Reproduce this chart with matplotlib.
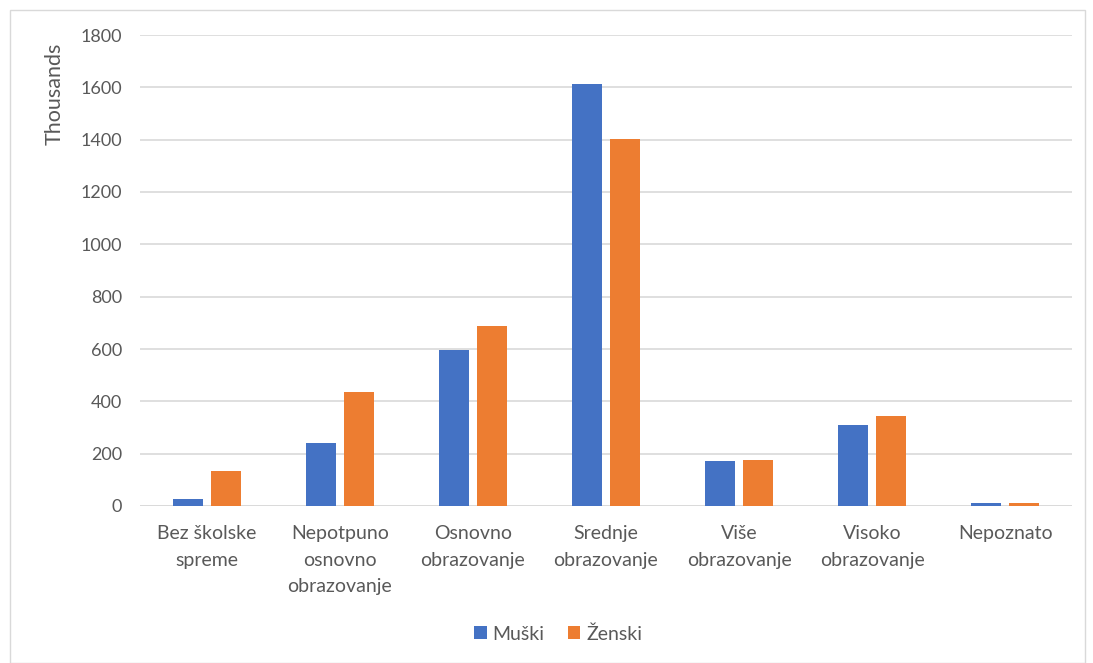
import matplotlib
matplotlib.use("Agg")
import matplotlib.pyplot as plt
from matplotlib.patches import Rectangle
import numpy as np

categories = ["Bez školske\nspreme", "Nepotpuno\nosnovno\nobrazovanje", "Osnovno\nobrazovanje",
              "Srednje\nobrazovanje", "Više\nobrazovanje", "Visoko\nobrazovanje", "Nepoznato"]
muski = [28, 241, 595, 1611, 172, 309, 10]
zenski = [133, 436, 687, 1401, 174, 343, 11]
series_names = ["Muški", "Ženski"]
yticks = [0, 200, 400, 600, 800, 1000, 1200, 1400, 1600, 1800]

plt.rcParams['font.family'] = ['Lato', 'DejaVu Sans']
text_color = "#595959"
grid_color = "#d9d9d9"

fig = plt.figure(figsize=(10.93, 6.63), dpi=100)
W, H = 1093, 663
ax = fig.add_axes([140 / W, 1 - 506 / H, 932 / W, 471 / H])

x = np.arange(len(categories))
width = 0.225
off = 0.143
ax.bar(x - off, muski, width, color="#4472C4", label=series_names[0], zorder=3)
ax.bar(x + off, zenski, width, color="#ED7D31", label=series_names[1], zorder=3)

ax.set_xlim(-0.5, len(categories) - 0.5)
ax.set_ylim(0, 1800)
ax.set_yticks(yticks)
ax.set_yticklabels([str(v) for v in yticks])
ax.set_xticks(x)
ax.set_xticklabels(categories, linespacing=1.68, va="top")
ax.tick_params(axis="both", length=0, colors=text_color)
ax.tick_params(axis="y", pad=13, labelsize=13)
ax.tick_params(axis="x", pad=14, labelsize=14)
ax.yaxis.grid(True, color=grid_color, linewidth=1.2, zorder=0)
for s in ax.spines.values():
    s.set_visible(False)
ax.axhline(0, color=grid_color, linewidth=1.2, zorder=2)

fig.text(55 / W, 1 - 94 / H, "Thousands", rotation=90, ha="center", va="center",
         color=text_color, fontsize=15.5)

handles, labels = ax.get_legend_handles_labels()
leg = fig.legend(handles, labels, loc="center", bbox_to_anchor=(558 / W, 1 - 634 / H),
                 ncol=2, frameon=False, fontsize=14, handlelength=0.65, handleheight=0.65,
                 handletextpad=0.3, columnspacing=1.2)
for t in leg.get_texts():
    t.set_color(text_color)

fig.patches.append(Rectangle((10 / W, 0), 1075 / W, 1 - 10 / H, transform=fig.transFigure,
                             fill=False, edgecolor="#d9d9d9", linewidth=1))

fig.savefig("out.png", dpi=100)
